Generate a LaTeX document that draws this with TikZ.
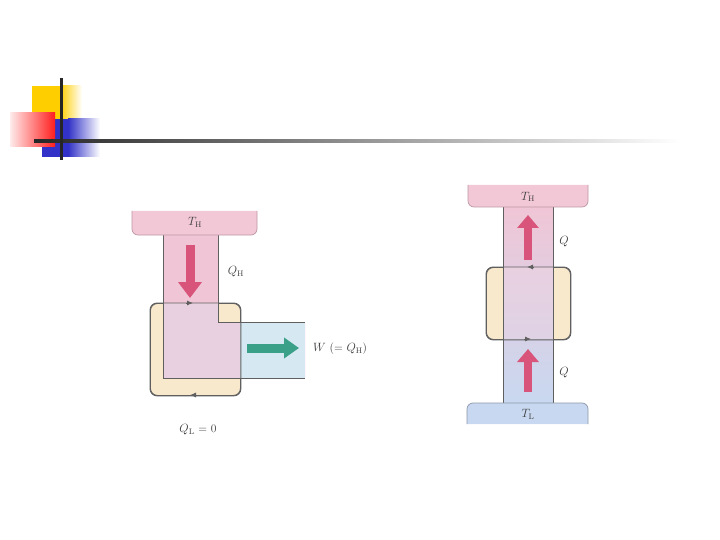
\documentclass[tikz,border=0pt]{standalone}
\usetikzlibrary{arrows.meta}
\definecolor{resv}{RGB}{242,200,214}
\definecolor{coldblue}{RGB}{200,216,240}
\definecolor{engy}{RGB}{248,232,204}
\definecolor{lav}{RGB}{232,208,224}
\definecolor{pipepink}{RGB}{240,198,214}
\definecolor{workblue}{RGB}{214,232,242}
\definecolor{arrred}{RGB}{216,84,122}
\definecolor{arrgreen}{RGB}{58,160,136}
\definecolor{edgec}{RGB}{95,95,95}
\definecolor{resedge}{RGB}{190,150,165}
\definecolor{txt}{RGB}{60,60,60}
\definecolor{decoyellow}{RGB}{255,206,0}
\definecolor{decoblue}{RGB}{50,50,200}
\definecolor{decored}{RGB}{255,30,30}
\tikzset{
  lbl/.style={font=\fontsize{11.5}{13}\selectfont, text=txt, inner sep=1pt},
  pipeedge/.style={draw=edgec, line width=0.9pt},
  enginebox/.style={draw=edgec, line width=0.9pt, fill=engy, rounded corners=7pt},
  bigred/.style={draw=arrred, line width=9pt, -{Triangle[width=23pt,length=16pt]}},
  bigredr/.style={draw=arrred, line width=8pt, -{Triangle[width=21pt,length=13pt]}},
  biggreen/.style={draw=arrgreen, line width=9pt, -{Triangle[width=20pt,length=15pt]}},
  cyclemark/.style={draw=edgec, line width=0.9pt, -{Latex[length=6pt,width=5pt]}}
}
\begin{document}
\begin{tikzpicture}[x=1pt,y=-1pt]
\useasboundingbox[fill=white] (0,0) rectangle (720,540);

% ---- slide decoration ----
\fill[decoyellow] (32,86) rectangle (60,119);
\shade[left color=decoyellow, right color=white] (60,86) rectangle (82,119);
\fill[decoblue] (42,119) rectangle (68,157);
\shade[left color=decoblue, right color=white] (68,119) rectangle (100,157);
\shade[left color=red!8, right color=decored] (10,113) rectangle (55,147);
\shade[left color=black!85, right color=white] (34,139.5) rectangle (680,142.5);
\fill[black!85] (60,78) rectangle (63,160);

% ---- left diagram: heat engine, QL = 0 ----
\node[enginebox, minimum width=90pt, minimum height=92pt, anchor=north west] (engL) at (150,303) {};
% L-shaped band
\fill[pipepink] (163,235) -- (218,235) -- (218,322) -- (305,322) -- (305,378) -- (163,378) -- cycle;
\begin{scope}
  \clip[rounded corners=7pt] (150,303) rectangle (240,395);
  \fill[lav] (163,235) -- (218,235) -- (218,322) -- (305,322) -- (305,378) -- (163,378) -- cycle;
\end{scope}
\fill[workblue] (240,322) rectangle (305,378);
\draw[pipeedge] (163,235) -- (163,378) -- (305,378);
\draw[pipeedge] (218,235) -- (218,322) -- (305,322);
\draw[draw=edgec, line width=0.9pt, rounded corners=7pt] (engL.north west) rectangle (engL.south east);
% cycle direction marks
\coordinate (mL1a) at (186,303); \coordinate (mL1b) at (193,303);
\coordinate (mL2a) at (197,395); \coordinate (mL2b) at (190,395);
\draw[cyclemark] (mL1a) -- (mL1b);
\draw[cyclemark] (mL2a) -- (mL2b);
% hot reservoir
\fill[resv, rounded corners=6pt] (132,211) -- (132,235) -- (257,235) -- (257,211);
\draw[resedge, line width=0.7pt, rounded corners=6pt] (132,211) -- (132,235) -- (257,235) -- (257,211);
\node[lbl] (thL) at (195,222) {$T_{\mathrm{H}}$};
% arrows
\coordinate (qhA) at (190,245); \coordinate (qhB) at (190,298);
\draw[bigred] (qhA) -- (qhB);
\node[lbl] (qhL) at (236,272) {$Q_{\mathrm{H}}$};
\coordinate (wA) at (247,348); \coordinate (wB) at (299,348);
\draw[biggreen] (wA) -- (wB);
\node[lbl, anchor=west] (wL) at (312,349) {$W$ (= $Q_{\mathrm{H}}$)};
\node[lbl] (qlL) at (198,430) {$Q_{\mathrm{L}}$ = 0};

% ---- right diagram: heat flows from cold to hot ----
\node[enginebox, minimum width=84pt, minimum height=72pt, anchor=north west] (engR) at (486,267) {};
\shade[top color=pipepink, bottom color=coldblue] (503,207) rectangle (553,403);
\begin{scope}
  \clip[rounded corners=7pt] (486,267) rectangle (570,339);
  \shade[top color=lav, bottom color=lav!70!coldblue] (503,267) rectangle (553,339);
\end{scope}
\draw[pipeedge] (503,207) -- (503,403);
\draw[pipeedge] (553,207) -- (553,403);
\draw[draw=edgec, line width=0.9pt, rounded corners=7pt] (engR.north west) rectangle (engR.south east);
\coordinate (mR1a) at (534,267); \coordinate (mR1b) at (527,267);
\coordinate (mR2a) at (524,339); \coordinate (mR2b) at (531,339);
\draw[cyclemark] (mR1a) -- (mR1b);
\draw[cyclemark] (mR2a) -- (mR2b);
% reservoirs
\fill[resv, rounded corners=6pt] (468,185) -- (468,207) -- (588,207) -- (588,185);
\draw[resedge, line width=0.7pt, rounded corners=6pt] (468,185) -- (468,207) -- (588,207) -- (588,185);
\node[lbl] (thR) at (528,197) {$T_{\mathrm{H}}$};
\fill[coldblue, rounded corners=6pt] (467,424) -- (467,403) -- (588,403) -- (588,424);
\draw[draw=coldblue!70!black, line width=0.7pt, rounded corners=6pt] (467,424) -- (467,403) -- (588,403) -- (588,424);
\node[lbl] (tlR) at (528,414) {$T_{\mathrm{L}}$};
% arrows
\coordinate (q1A) at (528,260); \coordinate (q1B) at (528,215);
\draw[bigredr] (q1A) -- (q1B);
\coordinate (q2A) at (528,392); \coordinate (q2B) at (528,349);
\draw[bigredr] (q2A) -- (q2B);
\node[lbl] (q1L) at (564,242) {$Q$};
\node[lbl] (q2L) at (564,373) {$Q$};
\end{tikzpicture}
\end{document}
